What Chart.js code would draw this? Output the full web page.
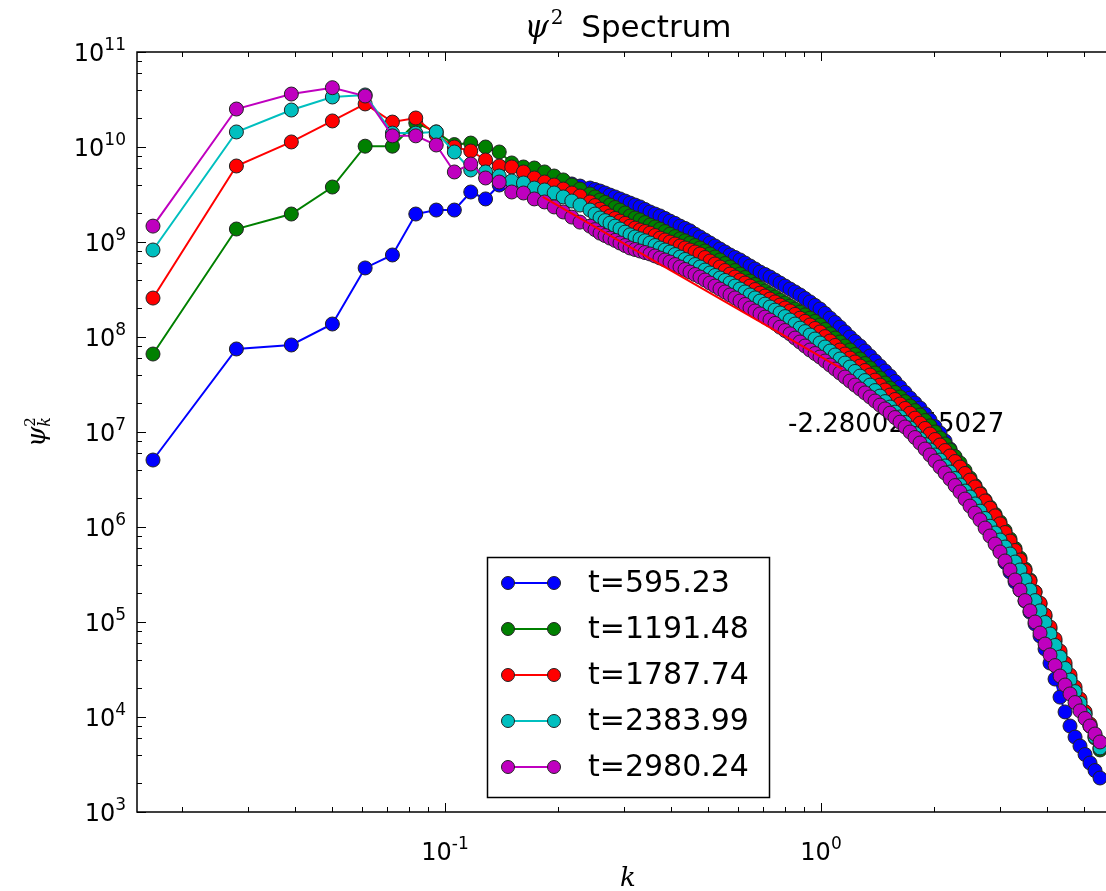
<!DOCTYPE html>
<html>
<head>
<meta charset="utf-8">
<script src="https://cdn.jsdelivr.net/npm/chart.js@4.4.1/dist/chart.umd.min.js"></script>
<style>
  html, body { margin: 0; padding: 0; overflow: hidden; background: #fff; }
  #wrap { position: relative; width: 1140px; height: 891px; }
</style>
</head>
<body>
<div id="wrap"><canvas id="spektrum" width="1140" height="891"></canvas></div>
<script>
// Wellenzahlen k
const kWerte = [0.01673, 0.02788, 0.03903, 0.05018, 0.06133, 0.07248, 0.08363, 0.09478, 0.1059, 0.1171,
  0.1282, 0.1394, 0.1505, 0.1617, 0.1728, 0.1840, 0.1951, 0.2063, 0.2174, 0.2286,
  0.2430, 0.2506, 0.2584, 0.2664, 0.2747, 0.2833, 0.2920, 0.3012, 0.3105, 0.3202,
  0.3301, 0.3403, 0.3509, 0.3619, 0.3731, 0.3847, 0.3966, 0.4090, 0.4217, 0.4348,
  0.4483, 0.4623, 0.4766, 0.4915, 0.5067, 0.5225, 0.5387, 0.5555, 0.5728, 0.5906,
  0.6089, 0.6279, 0.6474, 0.6676, 0.6883, 0.7098, 0.7317, 0.7546, 0.7780, 0.8023,
  0.8271, 0.8529, 0.8793,
  0.9067, 0.9348, 0.9639, 0.9938, 1.025, 1.057, 1.090, 1.123, 1.158, 1.194,
  1.231, 1.270, 1.309, 1.350, 1.392, 1.435, 1.480, 1.526, 1.573, 1.622,
  1.673, 1.725, 1.778, 1.833, 1.891, 1.949, 2.010, 2.072, 2.137, 2.203,
  2.272, 2.342, 2.415, 2.490, 2.568, 2.647, 2.731, 2.814, 2.903, 2.992,
  3.086, 3.181, 3.281, 3.382, 3.488, 3.595, 3.708, 3.823, 3.942, 4.064,
  4.191, 4.321, 4.456, 4.593, 4.737, 4.883, 5.036, 5.192, 5.354, 5.520];

// psi^2 Spektren zu den fuenf Zeitpunkten
const psiT595 = [5.07e6, 7.48e7, 8.24e7, 1.37e8, 5.33e8, 7.30e8, 1.97e9, 2.17e9, 2.17e9, 3.36e9,
  2.84e9, 3.98e9, 4.18e9, 4.28e9, 4.39e9, 4.39e9, 4.28e9, 4.18e9, 4.08e9, 3.88e9,
  3.70e9, 3.57e9, 3.44e9, 3.28e9, 3.12e9, 2.98e9, 2.84e9, 2.70e9, 2.57e9, 2.45e9,
  2.34e9, 2.20e9, 2.07e9, 1.97e9, 1.88e9, 1.77e9, 1.66e9, 1.57e9, 1.47e9, 1.39e9,
  1.31e9, 1.21e9, 1.13e9, 1.05e9, 9.76e8, 9.08e8, 8.44e8, 7.85e8, 7.30e8, 6.87e8,
  6.47e8, 6.01e8, 5.59e8, 5.20e8, 4.83e8, 4.55e8, 4.28e8, 3.98e8, 3.70e8, 3.44e8,
  3.20e8, 2.98e8, 2.77e8,
  2.54e8, 2.34e8, 2.15e8, 1.97e8, 1.77e8, 1.58e8, 1.42e8, 1.27e8, 1.13e8, 1.00e8,
  8.97e7, 8.04e7, 7.13e7, 6.31e7, 5.59e7, 4.95e7, 4.39e7, 3.88e7, 3.40e7, 2.98e7,
  2.61e7, 2.28e7, 2.02e7, 1.79e7, 1.55e7, 1.34e7, 1.14e7, 9.76e6, 8.04e6, 6.62e6,
  5.32e6, 4.28e6, 3.32e6, 2.57e6, 2.02e6, 1.58e6, 1.23e6, 9.53e5, 7.30e5, 5.59e5,
  4.23e5, 3.36e5, 2.64e5, 2.17e5, 1.66e5, 1.27e5, 9.53e4, 7.13e4, 5.20e4, 3.70e4,
  2.51e4, 1.62e4, 1.13e4, 8.04e3, 6.15e3, 4.95e3, 4.03e3, 3.28e3, 2.73e3, 2.28e3];
const psiT1191 = [6.62e7, 1.37e9, 1.97e9, 3.79e9, 1.02e10, 1.02e10, 1.79e10, 1.44e10, 1.06e10, 1.10e10,
  1.00e10, 8.86e9, 6.79e9, 6.16e9, 6.01e9, 5.46e9, 4.95e9, 4.50e9, 3.98e9, 3.61e9,
  3.20e9, 2.98e9, 2.77e9, 2.61e9, 2.45e9, 2.31e9, 2.17e9, 2.02e9, 1.88e9, 1.79e9,
  1.71e9, 1.60e9, 1.51e9, 1.44e9, 1.37e9, 1.29e9, 1.21e9, 1.14e9, 1.08e9, 1.03e9,
  9.76e8, 9.18e8, 8.65e8, 8.04e8, 7.48e8, 6.95e8, 6.47e8, 5.94e8, 5.46e8, 5.01e8,
  4.60e8, 4.23e8, 3.88e8, 3.57e8, 3.28e8, 3.05e8, 2.84e8, 2.64e8, 2.45e8, 2.28e8,
  2.12e8, 1.97e8, 1.83e8,
  1.71e8, 1.58e8, 1.46e8, 1.34e8, 1.20e8, 1.08e8, 9.75e7, 8.86e7, 8.04e7, 7.30e7,
  6.55e7, 5.87e7, 5.26e7, 4.72e7, 4.18e7, 3.70e7, 3.28e7, 2.90e7, 2.61e7, 2.34e7,
  2.09e7, 1.88e7, 1.68e7, 1.51e7, 1.32e7, 1.16e7, 1.00e7, 8.65e6, 7.48e6, 6.47e6,
  5.52e6, 4.72e6, 3.94e6, 3.28e6, 2.73e6, 2.28e6, 1.92e6, 1.62e6, 1.36e6, 1.13e6,
  9.18e5, 7.48e5, 5.94e5, 4.72e5, 3.61e5, 2.77e5, 2.07e5, 1.55e5, 1.14e5, 8.44e4,
  6.24e4, 4.60e4, 3.44e4, 2.57e4, 1.92e4, 1.44e4, 1.08e4, 8.04e3, 6.01e3, 4.50e3];
const psiT1787 = [2.57e8, 6.31e9, 1.13e10, 1.88e10, 2.84e10, 1.83e10, 2.02e10, 1.34e10, 1.00e10, 9.08e9,
  7.30e9, 6.31e9, 6.16e9, 5.46e9, 4.72e9, 4.28e9, 3.98e9, 3.61e9, 3.28e9, 3.05e9,
  2.64e9, 2.42e9, 2.22e9, 2.05e9, 1.88e9, 1.77e9, 1.66e9, 1.57e9, 1.47e9, 1.40e9,
  1.34e9, 1.29e9, 1.24e9, 1.17e9, 1.10e9, 1.05e9, 1.00e9, 9.53e8, 9.08e8, 8.65e8,
  8.24e8, 7.85e8, 7.48e8, 6.87e8, 6.31e8, 5.87e8, 5.46e8, 5.01e8, 4.60e8, 4.28e8,
  3.98e8, 3.70e8, 3.44e8, 3.16e8, 2.90e8, 2.70e8, 2.51e8, 2.34e8, 2.17e8, 2.02e8,
  1.88e8, 1.73e8, 1.58e8,
  1.46e8, 1.34e8, 1.23e8, 1.13e8, 1.01e8, 9.08e7, 8.15e7, 7.30e7, 6.62e7, 6.01e7,
  5.46e7, 4.95e7, 4.44e7, 3.98e7, 3.52e7, 3.12e7, 2.77e7, 2.45e7, 2.20e7, 1.97e7,
  1.77e7, 1.58e7, 1.40e7, 1.24e7, 1.09e7, 9.53e6, 8.34e6, 7.30e6, 6.38e6, 5.59e6,
  4.89e6, 4.28e6, 3.66e6, 3.12e6, 2.64e6, 2.22e6, 1.88e6, 1.58e6, 1.31e6, 1.08e6,
  8.75e5, 7.12e5, 5.66e5, 4.50e5, 3.48e5, 2.70e5, 2.07e5, 1.58e5, 1.19e5, 8.86e4,
  6.62e4, 4.95e4, 3.70e4, 2.77e4, 2.07e4, 1.55e4, 1.14e4, 8.44e3, 6.31e3, 4.72e3];
const psiT2383 = [8.24e8, 1.44e10, 2.45e10, 3.36e10, 3.53e10, 1.40e10, 1.40e10, 1.44e10, 8.86e9, 5.73e9,
  5.46e9, 4.95e9, 4.39e9, 4.18e9, 3.70e9, 3.53e9, 3.28e9, 2.98e9, 2.70e9, 2.45e9,
  2.17e9, 1.97e9, 1.79e9, 1.68e9, 1.58e9, 1.47e9, 1.37e9, 1.27e9, 1.19e9, 1.13e9,
  1.08e9, 1.03e9, 9.76e8, 9.18e8, 8.65e8, 8.24e8, 7.85e8, 7.38e8, 6.95e8, 6.55e8,
  6.16e8, 5.79e8, 5.46e8, 5.07e8, 4.72e8, 4.44e8, 4.18e8, 3.94e8, 3.70e8, 3.44e8,
  3.20e8, 2.98e8, 2.77e8, 2.58e8, 2.39e8, 2.22e8, 2.07e8, 1.92e8, 1.79e8, 1.64e8,
  1.51e8, 1.37e8, 1.24e8,
  1.14e8, 1.05e8, 9.53e7, 8.65e7, 7.85e7, 7.12e7, 6.47e7, 5.87e7, 5.32e7, 4.83e7,
  4.34e7, 3.88e7, 3.48e7, 3.12e7, 2.73e7, 2.39e7, 2.09e7, 1.83e7, 1.62e7, 1.44e7,
  1.26e7, 1.10e7, 9.64e6, 8.44e6, 7.38e6, 6.47e6, 5.73e6, 5.07e6, 4.39e6, 3.79e6,
  3.24e6, 2.77e6, 2.39e6, 2.07e6, 1.75e6, 1.47e6, 1.23e6, 1.02e6, 8.65e5, 7.30e5,
  6.16e5, 5.20e5, 4.28e5, 3.53e5, 2.77e5, 2.17e5, 1.68e5, 1.31e5, 9.88e4, 7.48e4,
  5.66e4, 4.28e4, 3.24e4, 2.45e4, 1.85e4, 1.40e4, 1.06e4, 8.04e3, 6.15e3, 4.72e3];
const psiT2980 = [1.47e9, 2.51e10, 3.61e10, 4.21e10, 3.44e10, 1.31e10, 1.31e10, 1.05e10, 5.46e9, 6.62e9,
  4.72e9, 4.28e9, 3.36e9, 3.28e9, 2.84e9, 2.64e9, 2.34e9, 2.07e9, 1.83e9, 1.62e9,
  1.47e9, 1.35e9, 1.24e9, 1.17e9, 1.10e9, 1.04e9, 9.76e8, 9.18e8, 8.65e8, 8.34e8,
  8.04e8, 7.75e8, 7.48e8, 7.13e8, 6.79e8, 6.47e8, 6.16e8, 5.79e8, 5.46e8, 5.14e8,
  4.83e8, 4.55e8, 4.28e8, 3.98e8, 3.70e8, 3.44e8, 3.20e8, 2.98e8, 2.77e8, 2.58e8,
  2.39e8, 2.20e8, 2.02e8, 1.88e8, 1.75e8, 1.62e8, 1.51e8, 1.39e8, 1.27e8, 1.17e8,
  1.08e8, 9.75e7, 8.86e7,
  8.04e7, 7.30e7, 6.70e7, 6.16e7, 5.59e7, 5.07e7, 4.60e7, 4.18e7, 3.79e7, 3.44e7,
  3.12e7, 2.84e7, 2.58e7, 2.34e7, 2.12e7, 1.92e7, 1.75e7, 1.58e7, 1.42e7, 1.27e7,
  1.13e7, 1.00e7, 8.75e6, 7.66e6, 6.62e6, 5.73e6, 4.95e6, 4.28e6, 3.70e6, 3.20e6,
  2.73e6, 2.34e6, 1.97e6, 1.66e6, 1.40e6, 1.19e6, 9.75e5, 8.04e5, 6.62e5, 5.46e5,
  4.39e5, 3.53e5, 2.77e5, 2.17e5, 1.68e5, 1.31e5, 1.00e5, 7.66e4, 5.86e4, 4.50e4,
  3.48e4, 2.70e4, 2.17e4, 1.75e4, 1.42e4, 1.16e4, 9.64e3, 8.04e3, 6.62e3, 5.46e3];

// Fit-Gerade (Steigung -2.28)
const fitK = [0.182, 1.14];
const fitPsi = [2.98e9, 4.6e7];
const steigungText = '-2.28002645027';
const textK = 0.817;
const textPsi = 1e7;

const zeiten = ['t=595.23', 't=1191.48', 't=1787.74', 't=2383.99', 't=2980.24'];
const farben = ['#0000ff', '#008000', '#ff0000', '#00bfbf', '#bf00bf'];
const serien = [psiT595, psiT1191, psiT1787, psiT2383, psiT2980];

// Achsen
const xMin = 0.01517, xMax = 6.2;
const yMin = 1e3, yMax = 1e11;
const xExponenten = [-1, 0];
const yExponenten = [3, 4, 5, 6, 7, 8, 9, 10, 11];

const datasets = serien.map((werte, i) => ({
    label: zeiten[i],
    data: werte.map((v, j) => ({ x: kWerte[j], y: v })),
    borderColor: farben[i],
    backgroundColor: farben[i],
    borderWidth: 2,
    pointRadius: 7,
    pointBackgroundColor: farben[i],
    pointBorderColor: '#222',
    pointBorderWidth: 1,
    order: serien.length - i + 1
}));
datasets.push({
    label: 'fit',
    data: fitK.map((k, j) => ({ x: k, y: fitPsi[j] })),
    borderColor: '#ff0000',
    borderWidth: 2,
    pointRadius: 0,
    order: 0
});

function potenz(ctx, exp, x, y, align) {
    // zeichnet 10^exp, x ist rechter Rand oder Mitte
    const basis = '10', hoch = String(exp);
    ctx.font = '24px "DejaVu Sans"';
    const wb = ctx.measureText(basis).width;
    ctx.font = '17px "DejaVu Sans"';
    const wh = ctx.measureText(hoch).width;
    let start = align === 'right' ? x - wb - wh : x - (wb + wh) / 2;
    ctx.textAlign = 'left';
    ctx.textBaseline = 'alphabetic';
    ctx.font = '24px "DejaVu Sans"';
    ctx.fillText(basis, start, y);
    ctx.font = '17px "DejaVu Sans"';
    ctx.fillText(hoch, start + wb, y - 11);
}

const achsenPlugin = {
    id: 'achsen',
    beforeDatasetsDraw(chart) {
        const ctx = chart.ctx;
        ctx.save();
        ctx.fillStyle = '#000';
        ctx.font = '26px "DejaVu Sans"';
        ctx.textAlign = 'left';
        ctx.textBaseline = 'alphabetic';
        ctx.fillText(steigungText, chart.scales.x.getPixelForValue(textK), chart.scales.y.getPixelForValue(textPsi));
        ctx.restore();
    },
    afterDraw(chart) {
        const ctx = chart.ctx;
        const ca = chart.chartArea;
        const xs = chart.scales.x, ys = chart.scales.y;
        ctx.save();
        ctx.strokeStyle = '#000';
        ctx.fillStyle = '#000';

        // Ticks nach innen
        ctx.lineWidth = 1;
        const strich = (x1, y1, x2, y2) => { ctx.beginPath(); ctx.moveTo(x1, y1); ctx.lineTo(x2, y2); ctx.stroke(); };
        for (let e = -2; e <= 0; e++) {
            for (let m = 1; m <= 9; m++) {
                const v = m * Math.pow(10, e);
                if (v < xMin || v > xMax) continue;
                const px = Math.round(xs.getPixelForValue(v)) + 0.5;
                const len = m === 1 ? 9 : 5;
                strich(px, ca.bottom, px, ca.bottom - len);
                strich(px, ca.top, px, ca.top + len);
            }
        }
        for (let e = 3; e <= 11; e++) {
            const subs = e === 11 ? [1] : [1, 2, 4, 6, 8];
            subs.forEach(m => {
                const py = Math.round(ys.getPixelForValue(m * Math.pow(10, e))) + 0.5;
                const len = m === 1 ? 9 : 5;
                strich(ca.left, py, ca.left + len, py);
                strich(ca.right, py, ca.right - len, py);
            });
        }

        // Rahmen
        ctx.lineWidth = 1.5;
        ctx.strokeRect(ca.left, ca.top, ca.right - ca.left, ca.bottom - ca.top);

        // Beschriftung
        yExponenten.forEach(e => potenz(ctx, e, 126, ys.getPixelForValue(Math.pow(10, e)) + 9, 'right'));
        xExponenten.forEach(e => potenz(ctx, e, xs.getPixelForValue(Math.pow(10, e)), 860, 'center'));

        // Titel
        const mitte = (ca.left + ca.right) / 2;
        ctx.textBaseline = 'alphabetic';
        ctx.textAlign = 'left';
        ctx.font = 'italic 31px "DejaVu Serif"';
        const wPsi = ctx.measureText('\u03c8').width;
        ctx.font = '20px "DejaVu Serif"';
        const wZwei = ctx.measureText('2').width;
        ctx.font = '31px "DejaVu Sans"';
        const wSpek = ctx.measureText('  Spectrum').width;
        let tx = mitte - (wPsi + wZwei + wSpek) / 2;
        ctx.font = 'italic 31px "DejaVu Serif"';
        ctx.fillText('\u03c8', tx, 37);
        ctx.font = '20px "DejaVu Serif"';
        ctx.fillText('2', tx + wPsi + 2, 24);
        ctx.font = '31px "DejaVu Sans"';
        ctx.fillText('  Spectrum', tx + wPsi + wZwei, 37);

        // x-Achse: k
        ctx.font = 'italic 26px "DejaVu Serif"';
        ctx.textAlign = 'center';
        ctx.fillText('k', mitte, 886);

        // y-Achse: psi_k^2
        ctx.save();
        ctx.translate(45, (ca.top + ca.bottom) / 2);
        ctx.rotate(-Math.PI / 2);
        ctx.textAlign = 'left';
        ctx.font = 'italic 26px "DejaVu Serif"';
        const wp = ctx.measureText('\u03c8').width;
        ctx.font = 'italic 16px "DejaVu Serif"';
        const wk = ctx.measureText('k').width;
        const u0 = -(wp + wk) / 2;
        ctx.font = 'italic 26px "DejaVu Serif"';
        ctx.fillText('\u03c8', u0, 0);
        ctx.font = 'italic 16px "DejaVu Serif"';
        ctx.fillText('k', u0 + wp, 5);
        ctx.font = '15px "DejaVu Serif"';
        ctx.fillText('2', u0 + wp, -10);
        ctx.restore();

        // Legende
        const lx = 487.5, ly = 557.5, lb = 282, lh = 240;
        ctx.fillStyle = '#fff';
        ctx.fillRect(lx, ly, lb, lh);
        ctx.lineWidth = 1.5;
        ctx.strokeStyle = '#000';
        ctx.strokeRect(lx, ly, lb, lh);
        zeiten.forEach((z, i) => {
            const y = 583 + i * 46;
            ctx.strokeStyle = farben[i];
            ctx.lineWidth = 2;
            strich(508, y, 554, y);
            [508, 554].forEach(mx => {
                ctx.beginPath();
                ctx.arc(mx, y, 6.5, 0, Math.PI * 2);
                ctx.fillStyle = farben[i];
                ctx.fill();
                ctx.lineWidth = 1;
                ctx.strokeStyle = '#222';
                ctx.stroke();
            });
            ctx.fillStyle = '#000';
            ctx.font = '30px "DejaVu Sans"';
            ctx.textAlign = 'left';
            ctx.textBaseline = 'middle';
            ctx.fillText(z, 588, y + 1);
        });
        ctx.restore();
    }
};

new Chart(document.getElementById('spektrum'), {
    type: 'line',
    data: { datasets: datasets },
    options: {
        responsive: false,
        animation: false,
        devicePixelRatio: 1,
        layout: { padding: { left: 137, top: 52, right: 21, bottom: 79 } },
        scales: {
            x: { type: 'logarithmic', min: xMin, max: xMax, bounds: 'data', display: false },
            y: { type: 'logarithmic', min: yMin, max: yMax, bounds: 'data', display: false }
        },
        plugins: { legend: { display: false }, tooltip: { enabled: false } }
    },
    plugins: [achsenPlugin]
});
</script>
</body>
</html>
